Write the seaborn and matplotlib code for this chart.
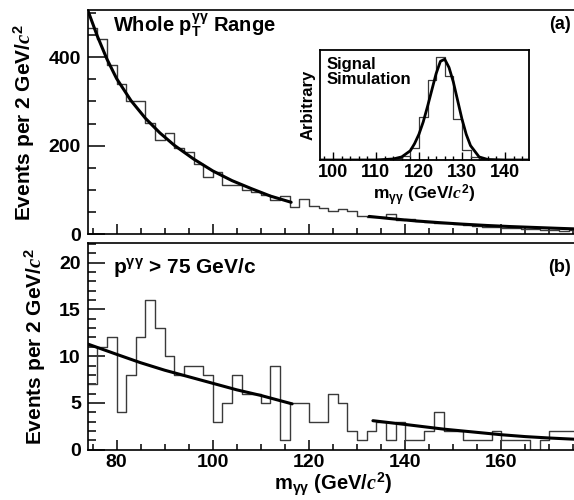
import matplotlib
matplotlib.use('Agg')
import matplotlib.pyplot as plt
import seaborn as sns
from matplotlib.ticker import MultipleLocator, NullFormatter

# Data: 2 GeV bins from 74 to 176
bin_edges = list(range(74, 178, 2))

# Whole pT range (panel a)
counts_all = [466, 441, 382, 339, 301, 301, 251, 214, 228, 195,
              186, 159, 130, 141, 111, 111, 100, 95, 88, 78,
              86, 62, 79, 63, 60, 53, 57, 52, 40, 38,
              38, 45, 33, 35, 30, 28, 25, 24, 22, 20,
              18, 15, 16, 14, 13, 12, 12, 9, 10, 8, 9]

# pT > 75 GeV/c (panel b)
counts_hipt = [7, 11, 12, 4, 8, 12, 16, 13, 10, 8,
               9, 9, 8, 3, 5, 8, 6, 6, 5, 9,
               1, 5, 5, 3, 3, 6, 5, 2, 1, 2,
               3, 1, 3, 1, 1, 2, 4, 2, 2, 1,
               1, 1, 2, 1, 1, 1, 0, 1, 2, 2, 2]

# sideband fits
fit_a_low_x = [74, 76, 78, 80, 83, 86, 89, 92, 96, 100, 104, 108, 112, 116.3]
fit_a_low_y = [507, 448, 396, 352, 302, 262, 229, 201, 170, 143, 121, 103, 86, 72]
fit_a_high_x = [132.5, 137, 142, 147, 152, 157, 162, 167, 172, 176]
fit_a_high_y = [40, 35, 30, 26, 22.5, 19.5, 17, 15, 13, 11.5]

fit_b_low_x = [74, 80, 85, 90, 95, 100, 105, 110, 116.5]
fit_b_low_y = [11.3, 10.2, 9.3, 8.5, 7.8, 7.1, 6.4, 5.8, 4.9]
fit_b_high_x = [133.3, 140, 148, 155, 160, 165, 170, 176]
fit_b_high_y = [3.1, 2.7, 2.2, 1.85, 1.6, 1.4, 1.25, 1.1]

# Signal simulation inset
sig_edges = list(range(108, 144, 2))
sig_counts = [0.0, 0.005, 0.01, 0.02, 0.04, 0.12, 0.42, 0.78, 1.0, 0.82, 0.40, 0.10, 0.03, 0.01, 0.0, 0.0, 0.0]
sig_fit_x = [97, 110, 114, 116, 118, 119, 120, 121, 122, 123, 124, 125, 126, 127, 128, 129, 130, 131, 132, 134, 136, 140, 146]
sig_fit_y = [0, 0.0, 0.01, 0.03, 0.09, 0.16, 0.25, 0.37, 0.52, 0.68, 0.84, 0.96, 0.98, 0.90, 0.76, 0.58, 0.40, 0.25, 0.14, 0.03, 0.005, 0, 0]

# Style
sns.set_style('ticks')
plt.rcParams['font.family'] = ['Liberation Sans', 'DejaVu Sans']
plt.rcParams['font.weight'] = 'bold'
plt.rcParams['mathtext.fontset'] = 'custom'
plt.rcParams['mathtext.rm'] = 'Liberation Sans:bold'
plt.rcParams['mathtext.bf'] = 'Liberation Sans:bold'
plt.rcParams['mathtext.it'] = 'Liberation Serif:italic'
plt.rcParams['axes.linewidth'] = 1.2
for key in ['text.color', 'axes.labelcolor', 'xtick.color', 'ytick.color', 'axes.edgecolor']:
    plt.rcParams[key] = 'black'

HIST_COL = '#3a3a3a'
centers = [(a + b) / 2 for a, b in zip(bin_edges[:-1], bin_edges[1:])]
sig_centers = [(a + b) / 2 for a, b in zip(sig_edges[:-1], sig_edges[1:])]

fig = plt.figure(figsize=(5.74, 5.0), dpi=100)
ax_a = fig.add_axes([87.7 / 574, 1 - 234.1 / 500, 490.6 / 574, 224.1 / 500])
ax_b = fig.add_axes([87.7 / 574, 1 - 449.7 / 500, 490.6 / 574, 206.7 / 500])


def style_axis(ax):
    ax.tick_params(which='both', direction='in', top=False, right=False,
                   labelsize=14, width=1.1)
    ax.tick_params(axis='y', which='major', length=12, pad=5)
    ax.tick_params(axis='y', which='minor', length=6)
    ax.tick_params(axis='x', which='major', length=7, pad=3)
    ax.tick_params(axis='x', which='minor', length=4)
    for s in ax.spines.values():
        s.set_visible(True)
        s.set_linewidth(1.2)
    ax.set_xlim(74, 176)
    ax.xaxis.set_major_locator(MultipleLocator(20))
    ax.xaxis.set_minor_locator(MultipleLocator(5))


def bold_ticks(ax):
    for lab in ax.get_xticklabels() + ax.get_yticklabels():
        lab.set_fontweight('bold')


# Panel (a)
sns.histplot(x=centers, weights=counts_all, bins=bin_edges, element='step',
             fill=False, color=HIST_COL, linewidth=1.0, ax=ax_a)
sns.lineplot(x=fit_a_low_x, y=fit_a_low_y, color='black', linewidth=2.2, ax=ax_a)
sns.lineplot(x=fit_a_high_x, y=fit_a_high_y, color='black', linewidth=2.2, ax=ax_a)
style_axis(ax_a)
ax_a.set_ylim(0, 507)
ax_a.yaxis.set_major_locator(MultipleLocator(200))
ax_a.yaxis.set_minor_locator(MultipleLocator(50))
ax_a.xaxis.set_major_formatter(NullFormatter())
ax_a.set_xlabel('')
ax_a.set_ylabel(r'Events per 2 GeV/$c^2$', fontsize=15, fontweight='bold', labelpad=8)
ax_a.text(0.052, 0.93, r'Whole $\mathrm{p}_\mathrm{T}^{\mathrm{γγ}}$ Range', transform=ax_a.transAxes,
          fontsize=14.5, fontweight='bold', va='center', ha='left')
ax_a.text(0.985, 0.935, '(a)', transform=ax_a.transAxes, fontsize=13,
          fontweight='bold', va='center', ha='right')
bold_ticks(ax_a)

# Panel (b)
sns.histplot(x=centers, weights=counts_hipt, bins=bin_edges, element='step',
             fill=False, color=HIST_COL, linewidth=1.0, ax=ax_b)
sns.lineplot(x=fit_b_low_x, y=fit_b_low_y, color='black', linewidth=2.2, ax=ax_b)
sns.lineplot(x=fit_b_high_x, y=fit_b_high_y, color='black', linewidth=2.2, ax=ax_b)
style_axis(ax_b)
ax_b.set_ylim(0, 22.1)
ax_b.yaxis.set_major_locator(MultipleLocator(5))
ax_b.yaxis.set_minor_locator(MultipleLocator(1))
ax_b.set_ylabel(r'Events per 2 GeV/$c^2$', fontsize=15, fontweight='bold', labelpad=8)
ax_b.set_xlabel(r'm$_{\mathrm{γγ}}$ (GeV/$c^2$)', fontsize=14.5, fontweight='bold', labelpad=0)
ax_b.text(0.052, 0.88, r'$\mathrm{p}^{\mathrm{γγ}}$ > 75 GeV/c', transform=ax_b.transAxes,
          fontsize=15, fontweight='bold', va='center', ha='left')
ax_b.text(0.985, 0.88, '(b)', transform=ax_b.transAxes, fontsize=13,
          fontweight='bold', va='center', ha='right')
bold_ticks(ax_b)

# Inset
ax_in = fig.add_axes([320 / 574, 1 - 160 / 500, 209 / 574, 110 / 500])
sns.histplot(x=sig_centers, weights=sig_counts, bins=sig_edges, element='step',
             fill=False, color=HIST_COL, linewidth=0.9, ax=ax_in)
sns.lineplot(x=sig_fit_x, y=sig_fit_y, color='black', linewidth=2.0, ax=ax_in)
ax_in.set_xlim(97, 145.6)
ax_in.set_ylim(0, 1.07)
ax_in.set_xticks([100, 110, 120, 130, 140])
ax_in.xaxis.set_minor_locator(MultipleLocator(2))
ax_in.set_yticks([])
ax_in.tick_params(which='both', direction='in', labelsize=13, width=1.0, pad=3)
ax_in.tick_params(which='major', length=6)
ax_in.tick_params(which='minor', length=3)
for s in ax_in.spines.values():
    s.set_visible(True)
    s.set_linewidth(1.3)
ax_in.set_ylabel('Arbitrary', fontsize=12, fontweight='bold', labelpad=3)
ax_in.set_xlabel(r'm$_{\mathrm{γγ}}$ (GeV/$c^2$)', fontsize=12.5, fontweight='bold', labelpad=1)
ax_in.text(0.03, 0.8, 'Signal\nSimulation', transform=ax_in.transAxes, fontsize=12,
           fontweight='bold', va='center', ha='left', linespacing=0.95)
bold_ticks(ax_in)

fig.savefig('out.png', dpi=100)
